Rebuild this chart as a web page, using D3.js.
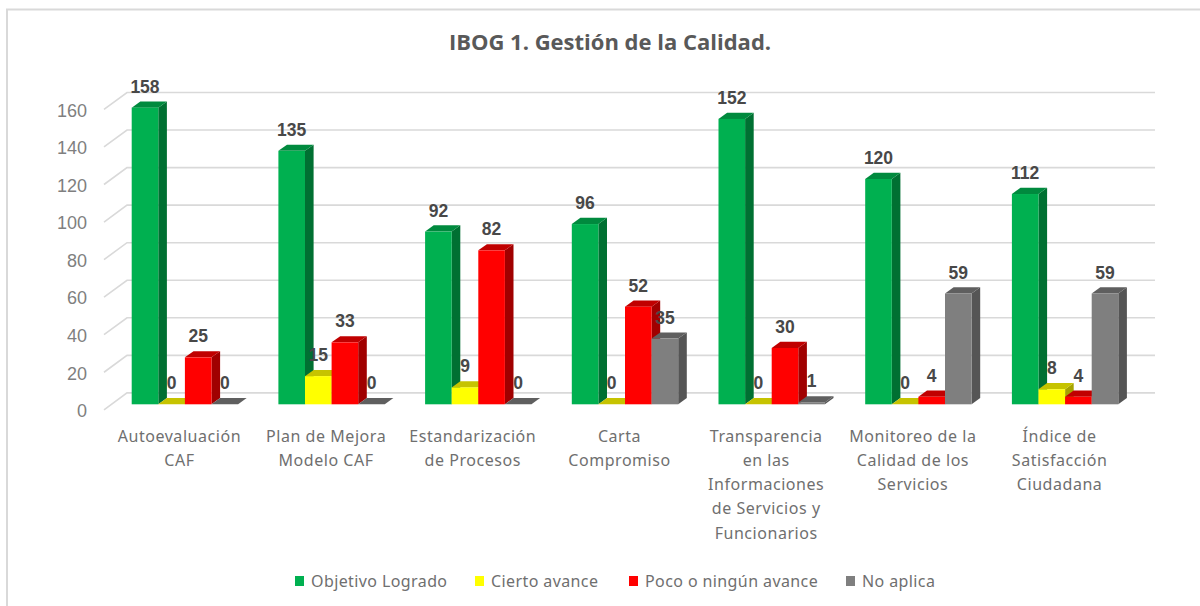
<!DOCTYPE html>
<html><head><meta charset="utf-8">
<script src="https://cdn.jsdelivr.net/npm/d3@7"></script>
<style>html,body{margin:0;padding:0;background:#fff;overflow:hidden}svg{display:block}</style>
</head><body><svg id="c" width="1200" height="606"></svg>
<script>
const title = "IBOG 1. Gestión de la Calidad.";
const categories = ["Autoevaluación CAF","Plan de Mejora Modelo CAF","Estandarización de Procesos","Carta Compromiso","Transparencia en las Informaciones de Servicios y Funcionarios","Monitoreo de la Calidad de los Servicios","Índice de Satisfacción Ciudadana"];
const categoryLines = [["Autoevaluación","CAF"],["Plan de Mejora","Modelo CAF"],["Estandarización","de Procesos"],["Carta","Compromiso"],["Transparencia","en las","Informaciones","de Servicios y","Funcionarios"],["Monitoreo de la","Calidad de los","Servicios"],["Índice de","Satisfacción","Ciudadana"]];
const seriesNames = ["Objetivo Logrado","Cierto avance","Poco o ningún avance","No aplica"];
const objetivoLogrado = [158,135,92,96,152,120,112];
const ciertoAvance = [0,15,9,0,0,0,8];
const pocoAvance = [25,33,82,52,30,4,4];
const noAplica = [0,0,0,35,1,59,59];
const seriesValues = [objetivoLogrado,ciertoAvance,pocoAvance,noAplica];
const frontColors = ["#00b050","#ffff00","#ff0000","#7f7f7f"];
const topColors = ["#008a3e","#c6c300","#c00000","#5f5f5f"];
const sideColors = ["#007032","#a5a300","#a00000","#555555"];
const legendSwatchX = [295,475,629,846];
const yTicks = [0,20,40,60,80,100,120,140,160];

const svg = d3.select("#c");
const DX = 8.6, DY = 6.2;
const y = d3.scaleLinear().domain([0,160]).range([404.3,103.9]);
const x0 = d3.scaleBand().domain(categories).range([131.7, 131.7+6*146.7+106.4]).paddingInner(40.3/146.7).paddingOuter(0);
const x1 = d3.scaleBand().domain(seriesNames).range([0,x0.bandwidth()]);

svg.append("path").attr("d","M7,606V9.5H1200").attr("fill","none").attr("stroke","#d9d9d9").attr("stroke-width",2);

svg.append("text").attr("x",610).attr("y",50).attr("text-anchor","middle")
  .attr("font-family","'Open Sans'").attr("font-weight",700).attr("font-size",22).attr("fill","#595959").text(title);

const grid = svg.append("g").attr("fill","none").attr("stroke","#d9d9d9").attr("stroke-width",1.6);
grid.selectAll("path").data(yTicks).join("path")
  .attr("d",v=>`M104,${y(v)+5.5}L127,${y(v)-11.4}H1155`);

const yAxis = d3.axisLeft(y).tickValues(yTicks).tickSize(0).tickPadding(0);
const ag = svg.append("g").attr("transform","translate(87,6.5)").call(yAxis);
ag.select(".domain").remove();
ag.selectAll("text").attr("font-family","'Liberation Sans'").attr("font-size",18).attr("fill","#7f7f7f");

const bars = svg.append("g");
categories.forEach((c,i)=>{
  const g = bars.append("g").attr("transform",`translate(${x0(c)},0)`);
  seriesNames.forEach((s,k)=>{
    const v = seriesValues[k][i], xl = x1(s), w = x1.bandwidth(), yt = y(v), yb = y(0);
    const b = g.append("g");
    b.append("path").attr("fill",sideColors[k]).attr("d",`M${xl+w},${yt}l${DX},${-DY}V${yb-DY}L${xl+w},${yb}Z`);
    b.append("path").attr("fill",topColors[k]).attr("d",`M${xl},${yt}l${DX},${-DY}h${w}l${-DX},${DY}Z`);
    b.append("rect").attr("x",xl).attr("y",yt).attr("width",w).attr("height",yb-yt).attr("fill",frontColors[k]);
  });
});

const labels = svg.append("g").attr("font-family","'Liberation Sans'").attr("font-weight",700).attr("font-size",17.5).attr("fill","#484848").attr("text-anchor","middle");
categories.forEach((c,i)=>{
  seriesNames.forEach((s,k)=>{
    const v = seriesValues[k][i];
    labels.append("text").attr("x",x0(c)+x1(s)+x1.bandwidth()/2).attr("y",y(v)-15).text(v);
  });
});

const cats = svg.append("g").attr("font-family","'Noto Sans'").attr("font-size",16).attr("letter-spacing",0.55).attr("fill","#6f6f6f").attr("text-anchor","middle");
categories.forEach((c,i)=>{
  categoryLines[i].forEach((ln,j)=>{
    cats.append("text").attr("x",x0(c)+x0.bandwidth()/2-5.5).attr("y",441.5+j*24.3).text(ln);
  });
});

const leg = svg.append("g").attr("font-family","'Noto Sans'").attr("font-size",16).attr("letter-spacing",0.4).attr("fill","#6f6f6f");
seriesNames.forEach((s,k)=>{
  leg.append("rect").attr("x",legendSwatchX[k]).attr("y",576).attr("width",9).attr("height",10).attr("fill",frontColors[k]);
  leg.append("text").attr("x",legendSwatchX[k]+16).attr("y",587).text(s);
});
</script></body></html>
